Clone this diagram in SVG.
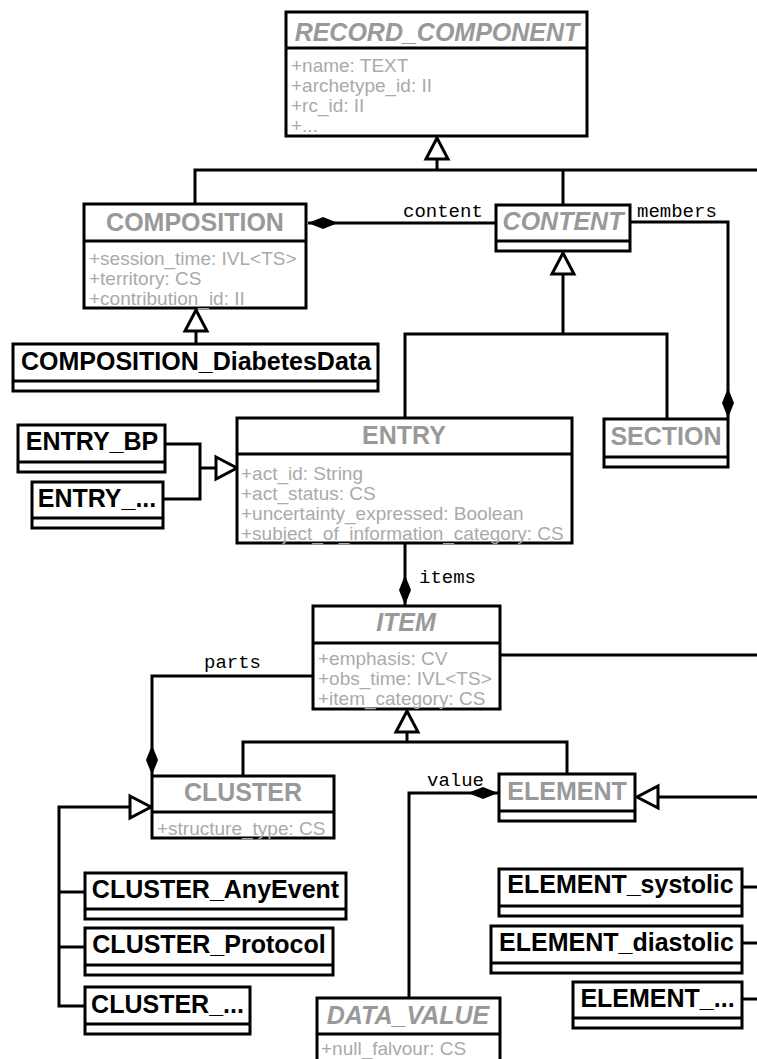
<svg xmlns="http://www.w3.org/2000/svg" width="757" height="1059" viewBox="0 0 757 1059">
<style>
.box{fill:#fff;stroke:#000;stroke-width:3}
.div{stroke:#000;stroke-width:3;fill:none}
.ln{fill:none;stroke:#000;stroke-width:3}
.tg{font-family:"Liberation Sans",Arial,sans-serif;font-weight:bold;font-size:25px;fill:#999;text-anchor:middle}
.it{font-style:italic}
.tb{font-family:"Liberation Sans",Arial,sans-serif;font-weight:bold;font-size:25px;fill:#000;text-anchor:middle}
.at{font-family:"Liberation Sans",Arial,sans-serif;font-size:19px;fill:#aaa}
.lb{font-family:"Liberation Mono","Courier New",monospace;font-size:19px;fill:#000}
</style>
<defs>
<marker id="gen" markerUnits="userSpaceOnUse" viewBox="-3 -3 28 28" markerWidth="28" markerHeight="28" refX="21" refY="11" orient="auto">
<path d="M0,0 L21,11 L0,22 Z" fill="#fff" stroke="#000" stroke-width="3" stroke-linejoin="miter"/>
</marker>
<marker id="dia" markerUnits="userSpaceOnUse" viewBox="-1 -1 32 14" markerWidth="32" markerHeight="14" refX="30" refY="6" orient="auto">
<path d="M0,6 L15,0 L30,6 L15,12 Z" fill="#000"/>
</marker>
</defs>

<g id="connectors">
<path class="ln" d="M195,204 V170 H757"/>
<path class="ln" d="M563,205 V170"/>
<path class="ln" d="M437,170 V138" marker-end="url(#gen)"/>
<path class="ln" d="M497,223 H308" marker-end="url(#dia)"/>
<path class="ln" d="M630,222 H728 V418" marker-end="url(#dia)"/>
<path class="ln" d="M405,418 V334 H667 V419"/>
<path class="ln" d="M563,334 V253" marker-end="url(#gen)"/>
<path class="ln" d="M196,344 V310" marker-end="url(#gen)"/>
<path class="ln" d="M165,444 H200 V499 H163"/>
<path class="ln" d="M200,468 H237" marker-end="url(#gen)"/>
<path class="ln" d="M405,543 V605" marker-end="url(#dia)"/>
<path class="ln" d="M500,655 H757"/>
<path class="ln" d="M313,676 H152 V775" marker-end="url(#dia)"/>
<path class="ln" d="M243,776 V742 H567 V774"/>
<path class="ln" d="M407,742 V711" marker-end="url(#gen)"/>
<path class="ln" d="M85,1006 H59 V807 H151" marker-end="url(#gen)"/>
<path class="ln" d="M59,892 H85"/>
<path class="ln" d="M59,947 H85"/>
<path class="ln" d="M409,998 V793 H498" marker-end="url(#dia)"/>
<path class="ln" d="M757,797 H637" marker-end="url(#gen)"/>
<path class="ln" d="M742,887 H757"/>
<path class="ln" d="M742,943 H757"/>
<path class="ln" d="M742,999 H757"/>
<text class="lb" x="403" y="217">content</text>
<text class="lb" x="637" y="217">members</text>
<text class="lb" x="419" y="583">items</text>
<text class="lb" x="204" y="668">parts</text>
<text class="lb" x="427" y="786">value</text>
</g>

<g id="record_component">
<rect class="box" x="286" y="12" width="301" height="124"/>
<line class="div" x1="286" y1="48" x2="587" y2="48"/>
<text class="tg it" x="437" y="41">RECORD_COMPONENT</text>
<text class="at" x="291" y="72">+name: TEXT</text>
<text class="at" x="291" y="92">+archetype_id: II</text>
<text class="at" x="291" y="112">+rc_id: II</text>
<text class="at" x="291" y="132">+...</text>
</g>

<g id="composition">
<rect class="box" x="84" y="204" width="222" height="104"/>
<line class="div" x1="84" y1="241" x2="306" y2="241"/>
<text class="tg" x="195" y="231">COMPOSITION</text>
<text class="at" x="89" y="265">+session_time: IVL&lt;TS&gt;</text>
<text class="at" x="89" y="285">+territory: CS</text>
<text class="at" x="89" y="305">+contribution_id: II</text>
</g>

<g id="content">
<rect class="box" x="496" y="205" width="134" height="46"/>
<line class="div" x1="496" y1="241" x2="630" y2="241"/>
<text class="tg it" x="563" y="230">CONTENT</text>
</g>

<g id="composition_diabetesdata">
<rect class="box" x="13" y="344" width="365" height="47"/>
<line class="div" x1="13" y1="381" x2="378" y2="381"/>
<text class="tb" x="196" y="370">COMPOSITION_DiabetesData</text>
</g>

<g id="entry">
<rect class="box" x="237" y="418" width="335" height="125"/>
<line class="div" x1="237" y1="454" x2="572" y2="454"/>
<text class="tg" x="404" y="444">ENTRY</text>
<text class="at" x="241" y="480">+act_id: String</text>
<text class="at" x="241" y="500">+act_status: CS</text>
<text class="at" x="241" y="520">+uncertainty_expressed: Boolean</text>
<text class="at" x="241" y="540">+subject_of_information_category: CS</text>
</g>

<g id="section">
<rect class="box" x="604" y="419" width="124" height="48"/>
<line class="div" x1="604" y1="457" x2="728" y2="457"/>
<text class="tg" x="666" y="445">SECTION</text>
</g>

<g id="entry_bp">
<rect class="box" x="18" y="425" width="147" height="47"/>
<line class="div" x1="18" y1="462" x2="165" y2="462"/>
<text class="tb" x="92" y="450">ENTRY_BP</text>
</g>

<g id="entry_etc">
<rect class="box" x="32" y="482" width="131" height="46"/>
<line class="div" x1="32" y1="518" x2="163" y2="518"/>
<text class="tb" x="97" y="507">ENTRY_...</text>
</g>

<g id="item">
<rect class="box" x="313" y="606" width="187" height="103"/>
<line class="div" x1="313" y1="643" x2="500" y2="643"/>
<text class="tg it" x="406" y="631">ITEM</text>
<text class="at" x="318" y="665">+emphasis: CV</text>
<text class="at" x="318" y="685">+obs_time: IVL&lt;TS&gt;</text>
<text class="at" x="318" y="705">+item_category: CS</text>
</g>

<g id="cluster">
<rect class="box" x="152" y="776" width="182" height="62"/>
<line class="div" x1="152" y1="812" x2="334" y2="812"/>
<text class="tg" x="243" y="801">CLUSTER</text>
<text class="at" x="157" y="835">+structure_type: CS</text>
</g>

<g id="element">
<rect class="box" x="499" y="774" width="136" height="47"/>
<line class="div" x1="499" y1="811" x2="635" y2="811"/>
<text class="tg" x="567" y="800">ELEMENT</text>
</g>

<g id="cluster_anyevent">
<rect class="box" x="85" y="873" width="261" height="46"/>
<line class="div" x1="85" y1="909" x2="346" y2="909"/>
<text class="tb" x="215.5" y="898">CLUSTER_AnyEvent</text>
</g>

<g id="cluster_protocol">
<rect class="box" x="85" y="928" width="248" height="47"/>
<line class="div" x1="85" y1="965" x2="333" y2="965"/>
<text class="tb" x="209" y="953">CLUSTER_Protocol</text>
</g>

<g id="cluster_etc">
<rect class="box" x="85" y="987" width="165" height="47"/>
<line class="div" x1="85" y1="1024" x2="250" y2="1024"/>
<text class="tb" x="167.5" y="1013">CLUSTER_...</text>
</g>

<g id="element_systolic">
<rect class="box" x="499" y="869" width="243" height="47"/>
<line class="div" x1="499" y1="906" x2="742" y2="906"/>
<text class="tb" x="620.5" y="893">ELEMENT_systolic</text>
</g>

<g id="element_diastolic">
<rect class="box" x="491" y="926" width="251" height="47"/>
<line class="div" x1="491" y1="963" x2="742" y2="963"/>
<text class="tb" x="616.5" y="951">ELEMENT_diastolic</text>
</g>

<g id="element_etc">
<rect class="box" x="573" y="982" width="169" height="46"/>
<line class="div" x1="573" y1="1018" x2="742" y2="1018"/>
<text class="tb" x="657.5" y="1007">ELEMENT_...</text>
</g>

<g id="data_value">
<rect class="box" x="317" y="998" width="183" height="75"/>
<line class="div" x1="317" y1="1034" x2="500" y2="1034"/>
<text class="tg it" x="408" y="1024">DATA_VALUE</text>
<text class="at" x="321" y="1055">+null_falvour: CS</text>
</g>
</svg>
